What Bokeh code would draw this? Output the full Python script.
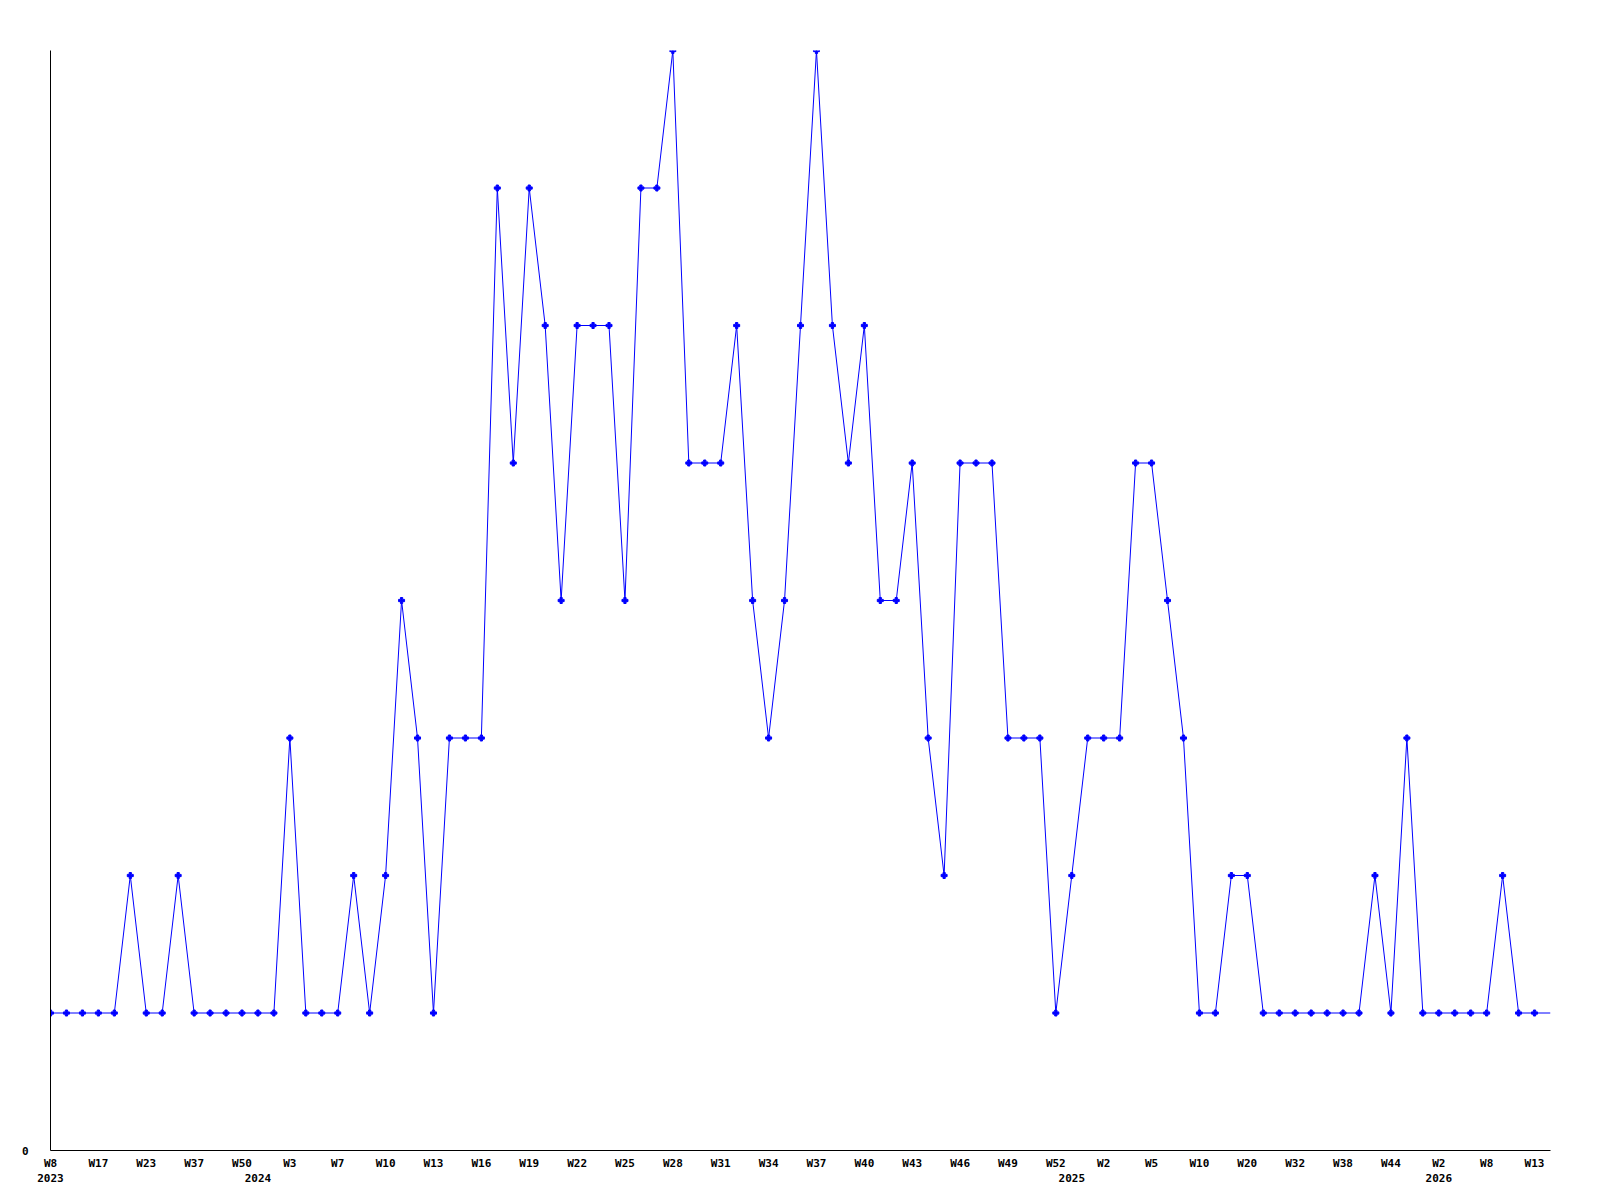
from bokeh.plotting import figure
from bokeh.models import LinearAxis, FixedTicker, Range1d
from bokeh.embed import file_html
from bokeh.resources import INLINE

values = [1, 1, 1, 1, 1, 2, 1, 1, 2, 1,
          1, 1, 1, 1, 1, 3, 1, 1, 1, 2,
          1, 2, 4, 3, 1, 3, 3, 3, 7, 5,
          7, 6, 4, 6, 6, 6, 4, 7, 7, 8,
          5, 5, 5, 6, 4, 3, 4, 6, 8, 6,
          5, 6, 4, 4, 5, 3, 2, 5, 5, 5,
          3, 3, 3, 1, 2, 3, 3, 3, 5, 5,
          4, 3, 1, 1, 2, 2, 1, 1, 1, 1,
          1, 1, 1, 2, 1, 3, 1, 1, 1, 1,
          1, 2, 1, 1, 1]

week_labels = ["W8", "W17", "W23", "W37", "W50", "W3", "W7", "W10", "W13", "W16",
               "W19", "W22", "W25", "W28", "W31", "W34", "W37", "W40", "W43", "W46",
               "W49", "W52", "W2", "W5", "W10", "W20", "W32", "W38", "W44", "W2",
               "W8", "W13"]
label_every = 3

year_labels = ["2023", "2024", "2025", "2026"]
year_index = [0, 13, 64, 87]

xs = list(range(len(values)))
week_ticks = [i * label_every for i in range(len(week_labels))]

FONT = "DejaVu Sans Mono"

p = figure(frame_width=1500, frame_height=1100,
           x_range=Range1d(0, len(values) - 1), y_range=Range1d(0, max(values)),
           output_backend="svg", toolbar_location=None,
           min_border_left=50, min_border_right=45, min_border_top=50, min_border_bottom=45,
           x_axis_location=None, y_axis_location=None)
p.outline_line_color = None
p.xgrid.visible = False
p.ygrid.visible = False
p.background_fill_color = "white"

# y axis
yax = LinearAxis(ticker=FixedTicker(ticks=[0]))
yax.axis_line_color = "black"
yax.axis_line_width = 1
yax.major_tick_line_color = None
yax.minor_tick_line_color = None
yax.major_tick_out = 0
yax.major_label_standoff = 22
yax.major_label_text_font = FONT
yax.major_label_text_font_style = "bold"
yax.major_label_text_font_size = "11px"
yax.major_label_text_color = "black"
p.add_layout(yax, "left")

# week axis
xax = LinearAxis(ticker=FixedTicker(ticks=week_ticks))
xax.major_label_overrides = {t: l for t, l in zip(week_ticks, week_labels)}
xax.axis_line_color = "black"
xax.major_tick_line_color = None
xax.minor_tick_line_color = None
xax.major_tick_out = 0
xax.major_tick_in = 0
xax.major_label_standoff = 6
xax.major_label_text_font = FONT
xax.major_label_text_font_style = "bold"
xax.major_label_text_font_size = "11px"
xax.major_label_text_color = "black"
p.add_layout(xax, "below")

# year axis
yrax = LinearAxis(ticker=FixedTicker(ticks=year_index))
yrax.major_label_overrides = {t: l for t, l in zip(year_index, year_labels)}
yrax.axis_line_color = None
yrax.major_tick_line_color = None
yrax.minor_tick_line_color = None
yrax.major_tick_out = 0
yrax.major_tick_in = 0
yrax.major_label_standoff = 1
yrax.major_label_text_font = FONT
yrax.major_label_text_font_style = "bold"
yrax.major_label_text_font_size = "11px"
yrax.major_label_text_color = "black"
p.add_layout(yrax, "below")

p.line(xs, values, line_color="#0000FF", line_width=1)
p.scatter(xs[:-1], values[:-1], marker="plus", size=6,
          line_color="#0000FF", fill_color="#0000FF", line_width=1)

open("out.html", "w").write(file_html(p, INLINE))
